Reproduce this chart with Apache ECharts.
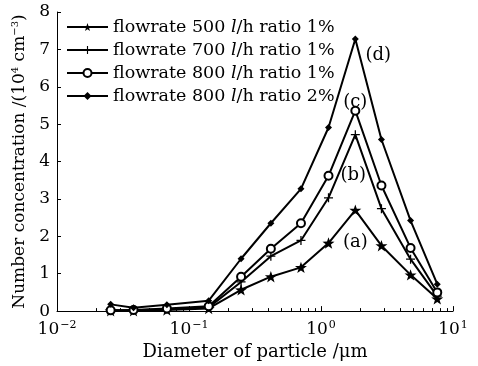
<!DOCTYPE html>
<html>
<head>
<meta charset="utf-8">
<script src="https://cdn.jsdelivr.net/npm/echarts@6/dist/echarts.min.js"></script>
<style>
  html, body { margin: 0; padding: 0; background: #fff; }
  #chart { width: 478px; height: 366px; }
</style>
</head>
<body>
<div id="chart"></div>
<script>
// Particle diameter (µm) of each measurement channel
const diameters = [0.0255, 0.038, 0.068, 0.141, 0.248, 0.417, 0.705, 1.14, 1.82, 2.87, 4.77, 7.6];

// Number concentration (10^4 cm^-3) for each run
const conc500r1 = [0.01, 0.01, 0.03, 0.07, 0.57, 0.92, 1.17, 1.82, 2.70, 1.75, 0.97, 0.33];
const conc700r1 = [0.02, 0.02, 0.05, 0.10, 0.78, 1.47, 1.89, 3.03, 4.72, 2.74, 1.39, 0.40];
const conc800r1 = [0.02, 0.03, 0.07, 0.13, 0.92, 1.67, 2.35, 3.62, 5.36, 3.36, 1.69, 0.50];
const conc800r2 = [0.18, 0.09, 0.17, 0.28, 1.40, 2.35, 3.27, 4.91, 7.28, 4.59, 2.42, 0.72];

const seriesNames = [
  'flowrate 500 l/h ratio 1%',
  'flowrate 700 l/h ratio 1%',
  'flowrate 800 l/h ratio 1%',
  'flowrate 800 l/h ratio 2%'
];
const peakTags = ['(a)', '(b)', '(c)', '(d)'];

const yTicks = [0, 1, 2, 3, 4, 5, 6, 7, 8];
const xMinorTicks = [0.02, 0.03, 0.04, 0.05, 0.06, 0.07, 0.08, 0.09,
                     0.2, 0.3, 0.4, 0.5, 0.6, 0.7, 0.8, 0.9,
                     2, 3, 4, 5, 6, 7, 8, 9];

const FONT = 'DejaVu Serif';
const starPath = 'path://M0,-10L2.35,-3.24L9.51,-3.09L3.8,1.24L5.88,8.09L0,4L-5.88,8.09L-3.8,1.24L-9.51,-3.09L-2.35,-3.24Z';
const plusPath = 'path://M-0.7,-5H0.7V-0.7H5V0.7H0.7V5H-0.7V0.7H-5V-0.7H-0.7Z';

const markerStyles = [
  { symbol: starPath, symbolSize: 12 },
  { symbol: plusPath, symbolSize: 9 },
  { symbol: 'emptyCircle', symbolSize: 8 },
  { symbol: 'diamond', symbolSize: 7 }
];
// where each peak tag sits relative to its peak point
const tagOffsets = [[0, 32], [-2, 41], [0, -8], [23, 16]];

const allSeries = [conc500r1, conc700r1, conc800r1, conc800r2];

function buildData(values, idx) {
  let peak = 0;
  values.forEach((v, i) => { if (v > values[peak]) peak = i; });
  return values.map((v, i) => {
    const item = { value: [diameters[i], v] };
    if (i === peak) {
      item.label = {
        show: true,
        formatter: peakTags[idx],
        position: 'inside',
        offset: tagOffsets[idx],
        color: '#000',
        fontFamily: FONT,
        fontSize: 18
      };
    }
    return item;
  });
}

const series = allSeries.map((vals, idx) => ({
  name: seriesNames[idx],
  type: 'line',
  data: buildData(vals, idx),
  symbol: markerStyles[idx].symbol,
  symbolSize: markerStyles[idx].symbolSize,
  symbolKeepAspect: true,
  showAllSymbol: true,
  color: '#000',
  itemStyle: { color: '#000', borderColor: '#000', borderWidth: idx === 2 ? 1.3 : 0 },
  lineStyle: { color: '#000', width: 2 },
  emphasis: { disabled: true },
  animation: false,
  z: 3
}));

function sup(v) {
  const e = Math.round(Math.log10(v));
  return '{b|10}{s|' + (e < 0 ? '\u2212' + (-e) : String(e)) + '}';
}

const chart = echarts.init(document.getElementById('chart'), null, { renderer: 'canvas' });
chart.setOption({
  backgroundColor: '#fff',
  animation: false,
  textStyle: { fontFamily: FONT, color: '#000' },
  grid: { left: 57, right: 25, top: 12, bottom: 50 },
  legend: {
    orient: 'vertical',
    left: 61,
    top: 13,
    itemWidth: 41,
    itemHeight: 10,
    itemGap: 5,
    data: seriesNames,
    textStyle: {
      fontFamily: FONT, fontSize: 17.5, color: '#000',
      rich: { i: { fontFamily: FONT, fontStyle: 'italic', fontSize: 17.5, color: '#000' } }
    },
    formatter: name => name.replace(' l/h', ' {i|l}/h'),
    selectedMode: false
  },
  xAxis: [{
    type: 'log',
    logBase: 10,
    min: 0.01,
    max: 10,
    name: 'Diameter of particle /\u03bcm',
    nameLocation: 'middle',
    nameGap: 27,
    nameTextStyle: { fontFamily: FONT, fontSize: 18, color: '#000' },
    axisLine: { lineStyle: { color: '#000', width: 1 } },
    axisTick: { inside: true, length: 5, lineStyle: { color: '#000' } },
    splitLine: { show: false },
    minorTick: { show: false },
    axisLabel: {
      margin: 9,
      formatter: v => sup(v),
      rich: {
        b: { fontFamily: FONT, fontSize: 17, color: '#000' },
        s: { fontFamily: FONT, fontSize: 11, color: '#000', verticalAlign: 'top', padding: [0, 0, 8, 1] }
      }
    }
  }, {
    type: 'log',
    logBase: 10,
    min: 0.01,
    max: 10,
    position: 'bottom',
    offset: 0,
    axisLine: { show: false },
    axisLabel: { show: false },
    splitLine: { show: false },
    axisTick: {
      inside: true, length: 3,
      customValues: xMinorTicks,
      lineStyle: { color: '#000' }
    }
  }],
  yAxis: {
    type: 'value',
    min: yTicks[0],
    max: yTicks[yTicks.length - 1],
    interval: 1,
    name: 'Number concentration /(10{s|4} cm{s|\u22123})',
    nameLocation: 'middle',
    nameGap: 25,
    nameRotate: 90,
    nameTextStyle: {
      fontFamily: FONT, fontSize: 17, color: '#000',
      rich: { s: { fontFamily: FONT, fontSize: 10, color: '#000', verticalAlign: 'top', padding: [0, 0, 8, 0] } }
    },
    axisLine: { show: true, lineStyle: { color: '#000', width: 1 } },
    axisTick: { show: true, inside: true, length: 4, lineStyle: { color: '#000' } },
    splitLine: { show: false },
    axisLabel: { margin: 7, fontFamily: FONT, fontSize: 17, color: '#000' }
  },
  series: series
});
</script>
</body>
</html>
